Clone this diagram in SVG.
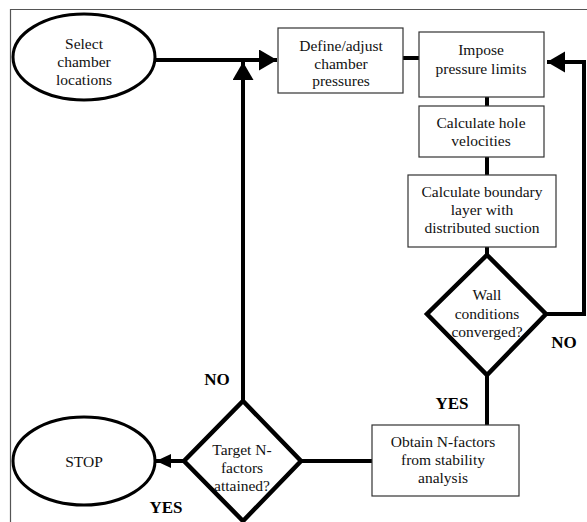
<svg xmlns="http://www.w3.org/2000/svg" width="587" height="522" viewBox="0 0 587 522">
<defs>
<style>
.t{font-family:"Liberation Serif","Times New Roman",serif;font-size:15.5px;fill:#111;text-anchor:middle}
.lb{font-family:"Liberation Serif","Times New Roman",serif;font-size:17px;font-weight:bold;fill:#000;text-anchor:middle}
.box{fill:#fff;stroke:#333;stroke-width:1.2}
.ell{fill:#fff;stroke:#000;stroke-width:3}
.dia{fill:#fff;stroke:#000;stroke-width:4.5;stroke-linejoin:miter}
.c{fill:none;stroke:#000;stroke-width:4}
</style>
<marker id="ah" markerUnits="userSpaceOnUse" markerWidth="20" markerHeight="22" refX="18" refY="10.5" orient="auto">
<path d="M0,0 L18,10.5 L0,21 z" fill="#000"/>
</marker>
<marker id="ahs" markerUnits="userSpaceOnUse" markerWidth="16" markerHeight="14" refX="15" refY="7" orient="auto">
<path d="M0,0 L15,7 L0,14 z" fill="#000"/>
</marker>
</defs>
<rect width="587" height="522" fill="#fff"/>
<path d="M10.5,522 V9.5 H587" fill="none" stroke="#555" stroke-width="1.2"/>
<g id="connectors">
<path class="c" d="M155,60 H277" marker-end="url(#ah)"/>
<path class="c" d="M243,401 V62" marker-end="url(#ah)"/>
<path class="c" d="M403,58 H419"/>
<path class="c" d="M487,97 V106"/>
<path class="c" d="M487,157 V175"/>
<path class="c" d="M487,247 V255"/>
<path class="c" d="M546,314 H584 V62 H547" marker-end="url(#ah)"/>
<path class="c" d="M487,375 V425"/>
<path class="c" d="M372,461 H300"/>
<path class="c" d="M184,461 H156" marker-end="url(#ahs)"/>
</g>
<g id="select">
<ellipse class="ell" cx="84" cy="57" rx="71" ry="43"/>
<text class="t" x="84" y="49">Select</text>
<text class="t" x="84" y="67">chamber</text>
<text class="t" x="84" y="85">locations</text>
</g>
<g id="define">
<rect class="box" x="278" y="28" width="125" height="65"/>
<text class="t" x="341" y="51">Define/adjust</text>
<text class="t" x="341" y="69">chamber</text>
<text class="t" x="341" y="86">pressures</text>
</g>
<g id="impose">
<rect class="box" x="419" y="32" width="125" height="65"/>
<text class="t" x="481" y="55">Impose</text>
<text class="t" x="481" y="74">pressure limits</text>
</g>
<g id="hole">
<rect class="box" x="419" y="106" width="125" height="51"/>
<text class="t" x="481" y="128">Calculate hole</text>
<text class="t" x="481" y="146">velocities</text>
</g>
<g id="boundary">
<rect class="box" x="408" y="175" width="148" height="72"/>
<text class="t" x="482" y="197">Calculate boundary</text>
<text class="t" x="482" y="215">layer with</text>
<text class="t" x="482" y="233">distributed suction</text>
</g>
<g id="wall">
<path class="dia" d="M487,255 L546,314 L487,375 L427,314 z"/>
<text class="t" x="487" y="300">Wall</text>
<text class="t" x="487" y="319">conditions</text>
<text class="t" x="487" y="337">converged?</text>
</g>
<g id="obtain">
<rect class="box" x="372" y="425" width="147" height="71"/>
<text class="t" x="443" y="447">Obtain N-factors</text>
<text class="t" x="443" y="465">from stability</text>
<text class="t" x="443" y="483">analysis</text>
</g>
<g id="target">
<path class="dia" d="M243,401 L301,461 L243,521 L184,461 z"/>
<text class="t" x="242" y="455">Target N-</text>
<text class="t" x="242" y="473">factors</text>
<text class="t" x="242" y="491">attained?</text>
</g>
<g id="stop">
<ellipse class="ell" cx="84" cy="461" rx="71" ry="44"/>
<text class="t" x="84" y="467">STOP</text>
</g>
<g id="labels">
<text class="lb" x="564" y="348">NO</text>
<text class="lb" x="452" y="409">YES</text>
<text class="lb" x="217" y="385">NO</text>
<text class="lb" x="166" y="513">YES</text>
</g>
</svg>
